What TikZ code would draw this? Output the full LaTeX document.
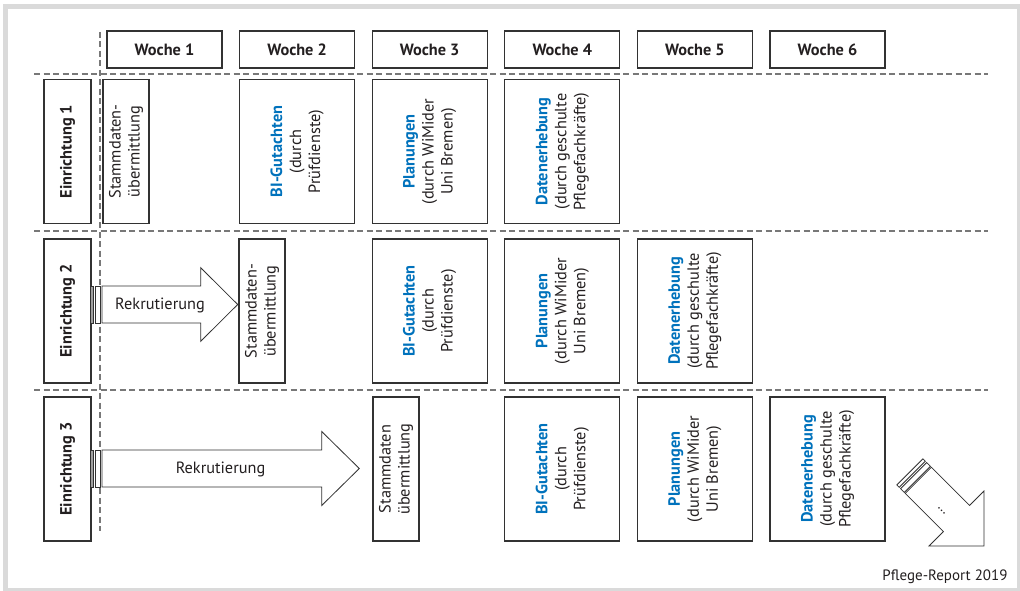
\documentclass[tikz,border=0pt]{standalone}
\usepackage{fontspec}
\setmainfont{PT Sans}
\definecolor{frame}{RGB}{218,218,218}
\definecolor{boxc}{RGB}{50,50,50}
\definecolor{txt}{RGB}{35,31,32}
\definecolor{bl}{RGB}{0,114,188}
\definecolor{dashc}{RGB}{120,120,120}
\definecolor{stripe}{RGB}{160,160,160}
\newcommand\bluebf[1]{\textcolor{bl}{\textbf{#1}}}
\begin{document}
\begin{tikzpicture}[x=1pt,y=-1pt,
  every node/.style={font=\fontsize{16.3}{19}\selectfont, text=txt},
  hdr/.style={draw=boxc, line width=1.1pt, minimum width=115pt, minimum height=37pt, inner sep=0pt, font=\fontsize{16.3}{19}\selectfont\bfseries},
  wide/.style={draw=boxc, line width=1.1pt, fill=white, rotate=90, minimum width=144pt, minimum height=115pt, inner sep=0pt, align=center},
  narrow/.style={wide, minimum height=46pt},
  einr/.style={wide, minimum height=47pt, font=\fontsize{16.3}{19}\selectfont\bfseries},
  sep/.style={draw=dashc, line width=1.1pt, dash pattern=on 6pt off 3.5pt},
  arr/.style={draw=boxc, line width=0.8pt, fill=white, line join=miter}
]
\useasboundingbox (0,0) rectangle (1020,591);
\fill[frame] (3,4) rectangle (1020,591);
\fill[white] (8,9) rectangle (1017,588);

% separators
\coordinate (h1a) at (34,74);  \coordinate (h1b) at (988,74);
\coordinate (h2a) at (34,231); \coordinate (h2b) at (988,231);
\coordinate (h3a) at (34,390); \coordinate (h3b) at (988,390);
\coordinate (va) at (100,32);  \coordinate (vb) at (100,531);
\draw[sep] (h1a) -- (h1b);
\draw[sep] (h2a) -- (h2b);
\draw[sep] (h3a) -- (h3b);
\draw[sep] (va) -- (vb);

% headers
\node[hdr] (w1) at (164.5,49.5) {Woche 1};
\node[hdr] (w2) at (297.1,49.5) {Woche 2};
\node[hdr] (w3) at (429.7,49.5) {Woche 3};
\node[hdr] (w4) at (562.3,49.5) {Woche 4};
\node[hdr] (w5) at (694.9,49.5) {Woche 5};
\node[hdr] (w6) at (827.5,49.5) {Woche 6};

% Einrichtungen
\node[einr] (e1) at (67.5,151.5) {Einrichtung 1};
\node[einr] (e2) at (67.5,311) {Einrichtung 2};
\node[einr] (e3) at (67.5,469) {Einrichtung 3};

% row 1
\node[narrow] (s1) at (126,151.5) {Stammdaten-\\übermittlung};
\node[wide] (b1) at (297.1,151.5) {\bluebf{BI-Gutachten}\\(durch\\Prüfdienste)};
\node[wide] (p1) at (429.7,151.5) {\bluebf{Planungen}\\(durch WiMider\\Uni Bremen)};
\node[wide] (d1) at (562.3,151.5) {\bluebf{Datenerhebung}\\(durch geschulte\\Pflegefachkräfte)};

% row 2
\node[narrow] (s2) at (262,311) {Stammdaten-\\übermittlung};
\node[wide] (b2) at (429.7,311) {\bluebf{BI-Gutachten}\\(durch\\Prüfdienste)};
\node[wide] (p2) at (562.3,311) {\bluebf{Planungen}\\(durch WiMider\\Uni Bremen)};
\node[wide] (d2) at (694.9,311) {\bluebf{Datenerhebung}\\(durch geschulte\\Pflegefachkräfte)};

% row 3
\node[narrow] (s3) at (396,469) {Stammdaten\\übermittlung};
\node[wide] (b3) at (562.3,469) {\bluebf{BI-Gutachten}\\(durch\\Prüfdienste)};
\node[wide] (p3) at (694.9,469) {\bluebf{Planungen}\\(durch WiMider\\Uni Bremen)};
\node[wide] (d3) at (827.5,469) {\bluebf{Datenerhebung}\\(durch geschulte\\Pflegefachkräfte)};

% arrow row 2
\draw[arr, fill=stripe] (90,286) rectangle (93.3,323);
\draw[arr] (95.3,286) rectangle (100.7,323);
\draw[arr] (102,286) -- (200.7,286) -- (200.7,267.7) -- (237.7,304.5) -- (200.7,341.3) -- (200.7,323) -- (102,323) -- cycle;
\node (r2) at (160,305) {Rekrutierung};

% arrow row 3
\draw[arr, fill=stripe] (90,450) rectangle (93.3,487);
\draw[arr] (95.3,450) rectangle (100.7,487);
\draw[arr] (102,450) -- (321.7,450) -- (321.7,431.5) -- (359.3,468.5) -- (321.7,505.5) -- (321.7,487) -- (102,487) -- cycle;
\node (r3) at (220.5,469) {Rekrutierung};

% diagonal arrow
\begin{scope}[shift={(984,546)}, rotate=-45]
  \draw[arr] (-104.8,-18.5) rectangle (-101.5,18.5);
  \draw[arr] (-99.5,-18.5) rectangle (-94.2,18.5);
  \draw[arr] (-92.9,-18.5) -- (-38.9,-18.5) -- (-38.9,-38.9) -- (0,0) -- (-38.9,38.9) -- (-38.9,18.5) -- (-92.9,18.5) -- cycle;
  \node[rotate=-45, font=\fontsize{14}{15}\selectfont, inner sep=0pt] (dots) at (-55,5) {…};
\end{scope}

\node[anchor=east, font=\fontsize{15}{18}\selectfont] (src) at (1011,577) {Pflege-Report 2019};
\end{tikzpicture}
\end{document}
